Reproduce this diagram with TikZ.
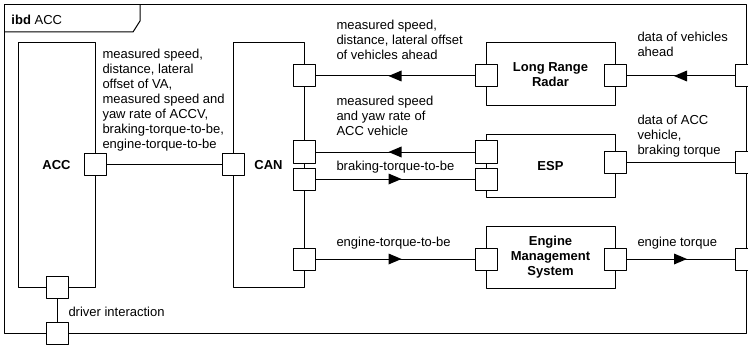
\documentclass[tikz,border=0pt]{standalone}
\usepackage{fontspec}
\setmainfont{Liberation Sans}
\usetikzlibrary{decorations.markings}

\begin{document}
\begin{tikzpicture}[x=1pt, y=-1pt, line width=1pt, line join=round, font=\fontsize{13}{15}\selectfont]
	\tikzset{block/.style={draw, fill=white, inner sep=0pt, align=center, font=\fontsize{13}{15}\selectfont\bfseries}}
	\tikzset{portbox/.style={draw, fill=white, minimum size=22pt, inner sep=0pt}}
	\tikzset{flowlabel/.style={inner sep=0pt, align=left}}
	\tikzset{flowto/.style={postaction={decorate}, decoration={markings, mark=at position 0.5 with {\fill (6.5pt,0pt) -- (-6.5pt,5.5pt) -- (-6.5pt,-5.5pt) -- cycle;}}}}
	
	\useasboundingbox (0,0) rectangle (748,345);
	\draw (4,5) rectangle (746,333);
	\draw (4,32) -- (133,32) -- (140,21) -- (140,5);
	\node[anchor=west, inner sep=0pt] (title) at (11,20) {\textbf{ibd} ACC};
	
	\node[block, minimum width=77pt, minimum height=244pt] (acc) at (56.5,165) {ACC};
	\node[block, minimum width=71pt, minimum height=244pt] (can) at (268.5,165) {CAN};
	\node[block, minimum width=129pt, minimum height=63pt] (lrr) at (550.5,74.5) {Long Range\\Radar};
	\node[block, minimum width=129pt, minimum height=62pt] (esp) at (550.5,166) {ESP};
	\node[block, minimum width=129pt, minimum height=62pt] (ems) at (550.5,257) {Engine\\Management\\System};
	
	\node[portbox] (accR) at (95,164) {};
	\node[portbox] (accB) at (57,287) {};
	\node[portbox] (frB) at (57,333) {};
	\node[portbox] (canL) at (233,164) {};
	\node[portbox] (can1) at (304,76) {};
	\node[portbox] (can2) at (304,152) {};
	\node[portbox] (can3) at (304,179) {};
	\node[portbox] (can4) at (304,259) {};
	\node[portbox] (lrrL) at (486,76) {};
	\node[portbox] (lrrR) at (615,76) {};
	\node[portbox] (espL1) at (486,152) {};
	\node[portbox] (espL2) at (486,179) {};
	\node[portbox] (espR) at (615,162) {};
	\node[portbox] (emsL) at (486,259) {};
	\node[portbox] (emsR) at (615,259) {};
	\node[portbox] (frR1) at (746,76) {};
	\node[portbox] (frR2) at (746,162) {};
	\node[portbox] (frR3) at (746,259) {};
	
	\draw (accR) -- (canL);
	\draw (accB) -- (frB);
	\draw[flowto] (lrrL) -- (can1);
	\draw[flowto] (espL1) -- (can2);
	\draw[flowto] (can3) -- (espL2);
	\draw[flowto] (can4) -- (emsL);
	\draw[flowto] (frR1) -- (lrrR);
	\draw (espR) -- (frR2);
	\draw[flowto] (emsR) -- (frR3);
	
	\node[flowlabel, anchor=south west] (accCanLbl) at (102,152) {measured speed,\\distance, lateral\\offset of VA,\\measured speed and\\yaw rate of ACCV,\\braking-torque-to-be,\\engine-torque-to-be};
	\node[flowlabel, anchor=south west] (lrrLbl) at (336,60) {measured speed,\\distance, lateral offset\\of vehicles ahead};
	\node[flowlabel, anchor=south west] (espInLbl) at (336,136.5) {measured speed\\and yaw rate of\\ACC vehicle};
	\node[flowlabel, anchor=west] (brakeLbl) at (336,167) {braking-torque-to-be};
	\node[flowlabel, anchor=west] (engLbl) at (336,243) {engine-torque-to-be};
	\node[flowlabel, anchor=south west] (aheadLbl) at (637,57.5) {data of vehicles\\ahead};
	\node[flowlabel, anchor=south west] (accDataLbl) at (637,158) {data of ACC\\vehicle,\\braking torque};
	\node[flowlabel, anchor=west] (engTqLbl) at (637,243) {engine torque};
	\node[flowlabel, anchor=west] (driverLbl) at (68,312) {driver interaction};
\end{tikzpicture}
\end{document}
